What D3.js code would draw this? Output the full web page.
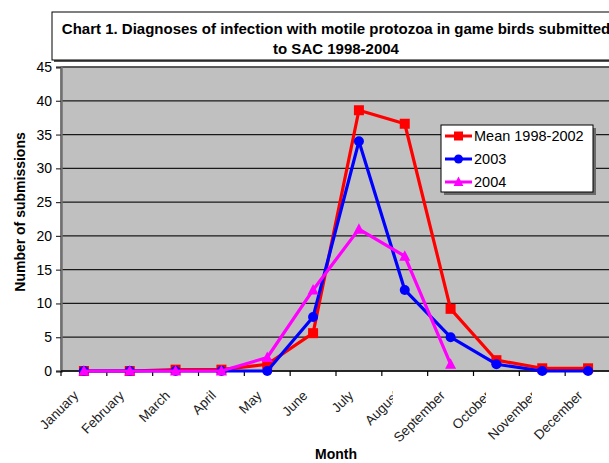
<!DOCTYPE html>
<html>
<head>
<meta charset="utf-8">
<script src="https://cdn.jsdelivr.net/npm/d3@7"></script>
<style>
  html, body { margin: 0; padding: 0; background: #fff; }
  svg { display: block; font-family: "Liberation Sans", Arial, sans-serif; }
</style>
</head>
<body>
<svg id="chart" width="609" height="463"></svg>
<script>
// Monthly submissions with motile protozoa diagnoses
const months = ["January", "February", "March", "April", "May", "June",
                "July", "August", "September", "October", "November", "December"];
const mean9802 = [0, 0, 0.2, 0.2, 1.0, 5.6, 38.6, 36.6, 9.2, 1.6, 0.4, 0.4];
const y2003    = [0, 0, 0, 0, 0, 8, 34, 12, 5, 1, 0, 0];
const y2004    = [0, 0, 0, 0, 2, 12, 21, 17, 1, null, null, null];
const yTicks   = [0, 5, 10, 15, 20, 25, 30, 35, 40, 45];
const seriesNames = ["Mean 1998-2002", "2003", "2004"];

const svg = d3.select("#chart");

const plot = { left: 61, right: 611, top: 67, bottom: 371 };

const x = d3.scaleBand().domain(months).range([plot.left, plot.right]).padding(0);
const y = d3.scaleLinear().domain([0, 45]).range([plot.bottom, plot.top]);
const cx = m => x(m) + x.bandwidth() / 2;

// Title box
svg.append("rect").attr("x", 54).attr("y", 14).attr("width", 620).attr("height", 48)
  .attr("fill", "#555");
svg.append("rect").attr("x", 52).attr("y", 12).attr("width", 620).attr("height", 48)
  .attr("fill", "#fff").attr("stroke", "#000").attr("stroke-width", 1);
const title = svg.append("text").attr("text-anchor", "middle")
  .attr("font-weight", "bold").attr("font-size", 15).attr("fill", "#000");
title.append("tspan").attr("x", 336).attr("y", 34)
  .text("Chart 1. Diagnoses of infection with motile protozoa in game birds submitted");
title.append("tspan").attr("x", 336).attr("y", 53.5).text("to SAC 1998-2004");

// Plot area background
svg.append("rect")
  .attr("x", plot.left).attr("y", plot.top)
  .attr("width", plot.right - plot.left).attr("height", plot.bottom - plot.top)
  .attr("fill", "#c0c0c0").attr("stroke", "#808080").attr("stroke-width", 1.5);

// Horizontal gridlines
svg.append("g").selectAll("line").data(yTicks.filter(v => v > 0)).join("line")
  .attr("x1", plot.left).attr("x2", plot.right)
  .attr("y1", d => y(d)).attr("y2", d => y(d))
  .attr("stroke", "#1a1a1a").attr("stroke-width", 1.2);

// Y axis
const yAxis = svg.append("g").attr("transform", `translate(${plot.left},0)`)
  .call(d3.axisLeft(y).tickValues(yTicks).tickSize(5).tickPadding(4));
yAxis.select(".domain").attr("stroke", "#707070").attr("stroke-width", 2.5);
yAxis.selectAll(".tick line").attr("stroke", "#333").attr("stroke-width", 1.2);
yAxis.selectAll(".tick text").attr("font-size", 14).attr("fill", "#000")
  .attr("font-family", "Liberation Sans, Arial, sans-serif");

// X axis with ticks on band boundaries
const xAxisG = svg.append("g");
xAxisG.append("line").attr("x1", plot.left).attr("x2", plot.right)
  .attr("y1", plot.bottom).attr("y2", plot.bottom)
  .attr("stroke", "#000").attr("stroke-width", 1.5);
xAxisG.selectAll("line.tk").data(months).join("line").attr("class", "tk")
  .attr("x1", d => x(d)).attr("x2", d => x(d))
  .attr("y1", plot.bottom).attr("y2", plot.bottom + 5)
  .attr("stroke", "#000").attr("stroke-width", 1.2);

// Rotated month labels; long names are cut by a vertical edge
const defs = svg.append("defs");
const clipEdge = { "August": 393, "October": 486, "November": 532 };
months.forEach((m, i) => {
  const g = xAxisG.append("g");
  if (clipEdge[m] !== undefined) {
    const id = "clip-" + i;
    defs.append("clipPath").attr("id", id).append("rect")
      .attr("x", 0).attr("y", 0).attr("width", clipEdge[m]).attr("height", 463);
    g.attr("clip-path", `url(#${id})`);
  }
  g.append("text")
    .attr("transform", `translate(${cx(m) - 8},${plot.bottom + 22}) rotate(-45)`)
    .attr("text-anchor", "end").attr("dy", "0.35em")
    .attr("font-size", 13.5).attr("fill", "#222").text(m);
});

// Axis titles
svg.append("text").attr("x", 336).attr("y", 459).attr("text-anchor", "middle")
  .attr("font-weight", "bold").attr("font-size", 14).attr("fill", "#000").text("Month");
svg.append("text").attr("transform", "translate(25,212) rotate(-90)")
  .attr("text-anchor", "middle").attr("font-weight", "bold").attr("font-size", 14)
  .attr("fill", "#000").text("Number of submissions");

// Series
const series = [
  { name: seriesNames[0], values: mean9802, color: "#ff0000", marker: "square" },
  { name: seriesNames[1], values: y2003, color: "#0000ff", marker: "circle" },
  { name: seriesNames[2], values: y2004, color: "#ff00ff", marker: "triangle" }
];

const line = d3.line()
  .defined(d => d.v !== null)
  .x(d => cx(d.m)).y(d => y(d.v));

function drawMarker(sel, type, color, size) {
  if (type === "square") {
    sel.append("rect").attr("x", -size / 2).attr("y", -size / 2)
      .attr("width", size).attr("height", size).attr("fill", color);
  } else if (type === "circle") {
    sel.append("circle").attr("r", size / 2).attr("fill", color);
  } else {
    const h = size * 1.0, w = size * 1.1;
    sel.append("path").attr("d", `M0,${-h * 0.6}L${w / 2},${h * 0.45}L${-w / 2},${h * 0.45}Z`)
      .attr("fill", color);
  }
}

series.forEach(s => {
  const pts = months.map((m, i) => ({ m, v: s.values[i] }));
  svg.append("path").datum(pts).attr("d", line)
    .attr("fill", "none").attr("stroke", s.color).attr("stroke-width", 3.2)
    .attr("stroke-linejoin", "round");
  pts.filter(d => d.v !== null).forEach(d => {
    const g = svg.append("g").attr("transform", `translate(${cx(d.m)},${y(d.v)})`);
    drawMarker(g, s.marker, s.color, 10);
  });
});

// Legend
const lg = { x: 441, y: 125, w: 152, h: 67 };
svg.append("rect").attr("x", lg.x + 3).attr("y", lg.y + 3).attr("width", lg.w).attr("height", lg.h)
  .attr("fill", "#6a6a6a");
svg.append("rect").attr("x", lg.x).attr("y", lg.y).attr("width", lg.w).attr("height", lg.h)
  .attr("fill", "#fff").attr("stroke", "#000").attr("stroke-width", 1);
series.forEach((s, i) => {
  const yy = lg.y + 11 + i * 23;
  svg.append("line").attr("x1", lg.x + 4).attr("x2", lg.x + 31)
    .attr("y1", yy).attr("y2", yy).attr("stroke", s.color).attr("stroke-width", 3);
  const g = svg.append("g").attr("transform", `translate(${lg.x + 17.5},${yy})`);
  drawMarker(g, s.marker, s.color, 9);
  svg.append("text").attr("x", lg.x + 33).attr("y", yy).attr("dy", "0.36em")
    .attr("font-size", 14.5).attr("fill", "#000").text(s.name);
});
</script>
</body>
</html>
